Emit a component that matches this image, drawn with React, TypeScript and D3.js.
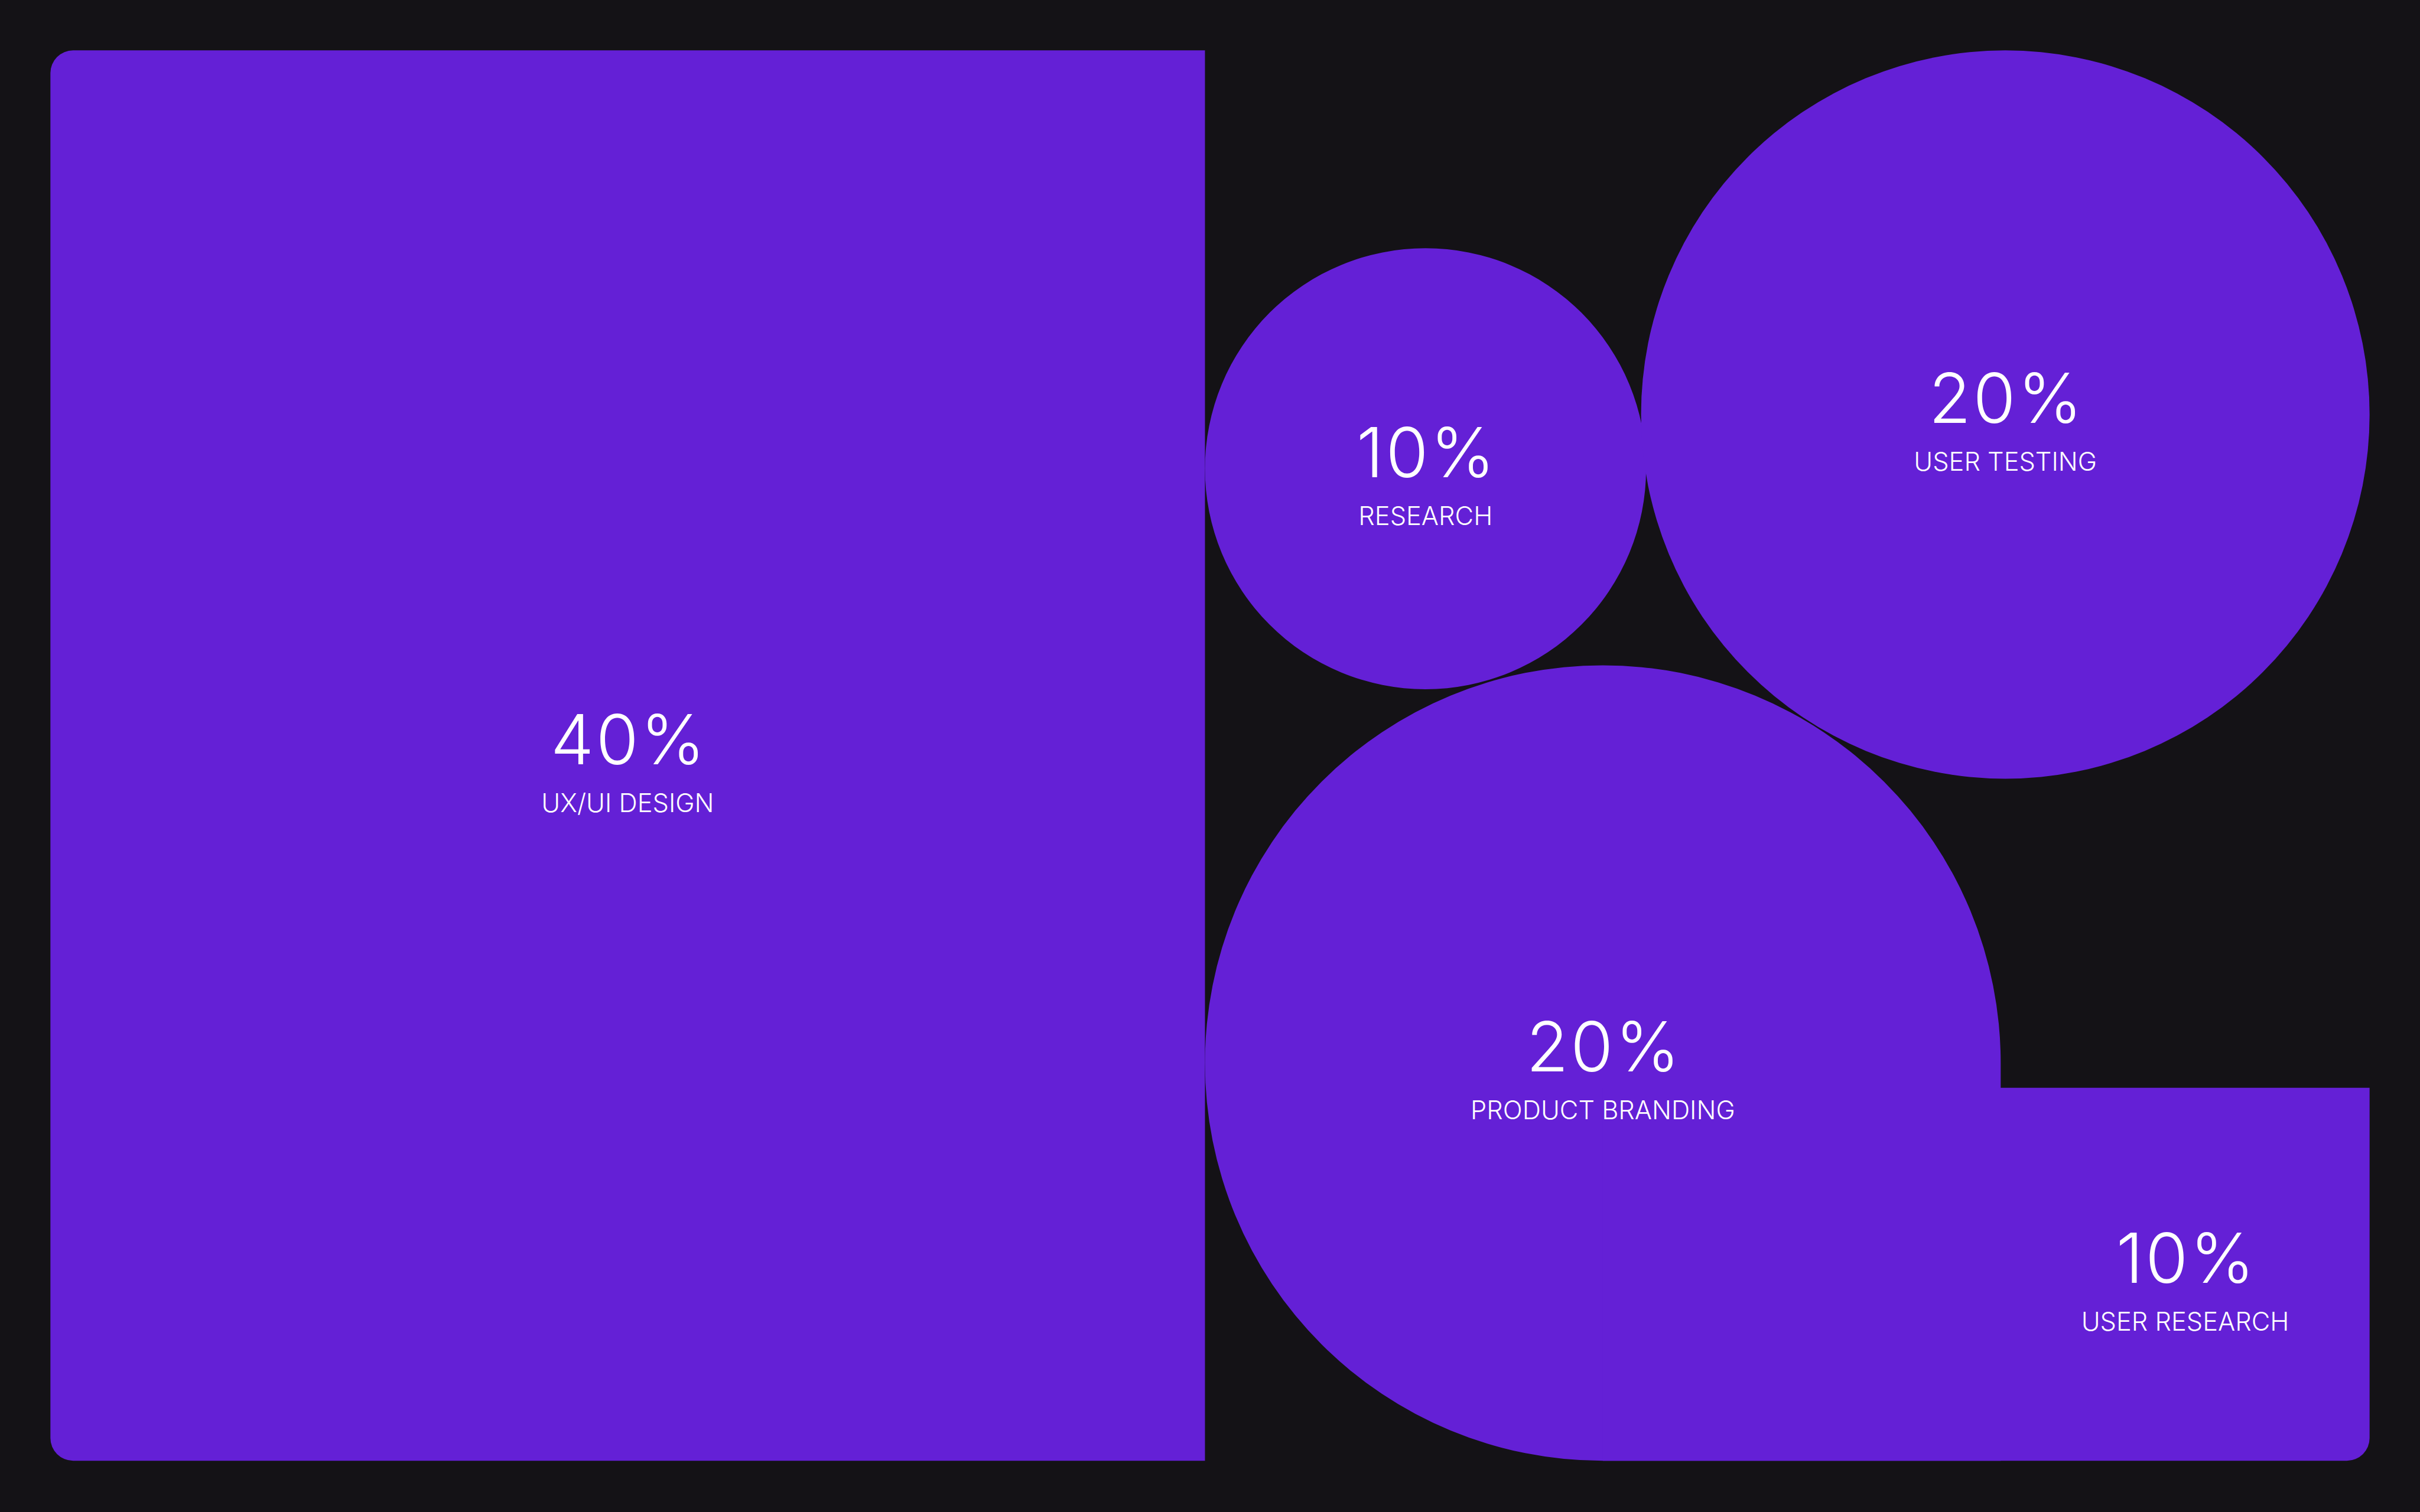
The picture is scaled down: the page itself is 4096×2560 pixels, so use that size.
import React, { useEffect } from "react";
import * as d3 from "d3";

// chart data
const labels = ["UX/UI DESIGN", "RESEARCH", "USER TESTING", "PRODUCT BRANDING", "USER RESEARCH"];
const shares = [40, 10, 20, 20, 10];
const kinds = ["panel", "circle", "circle", "drop", "tab"];

// reference canvas and output size
const REF_W = 5760;
const REF_H = 3600;
const W = 4096;
const H = 2560;

const BG = "#141216";
const FILL = "#6420d6";

// layout in reference pixels
const frame = { left: 120, top: 120, right: 5640, bottom: 3478 };
const splitX = 2868;
const corner = 54;
const rResearch = 525;
const yResearch = 1116;
const rTesting = 867;
const rBranding = 947;
const tabTop = 2590;

const x = d3.scaleLinear().domain([0, REF_W]).range([0, W]);
const y = d3.scaleLinear().domain([0, REF_H]).range([0, H]);
const k = W / REF_W;

function panelPath(x0, y0, x1, y1, r) {
  const p = d3.path();
  p.moveTo(x(x0 + r), y(y0));
  p.lineTo(x(x1), y(y0));
  p.lineTo(x(x1), y(y1));
  p.lineTo(x(x0 + r), y(y1));
  p.arcTo(x(x0), y(y1), x(x0), y(y1 - r), r * k);
  p.lineTo(x(x0), y(y0 + r));
  p.arcTo(x(x0), y(y0), x(x0 + r), y(y0), r * k);
  p.closePath();
  return p.toString();
}

function circlePath(cx, cy, r) {
  const p = d3.path();
  p.arc(x(cx), y(cy), r * k, 0, Math.PI * 2);
  p.closePath();
  return p.toString();
}

// circle whose bottom-right quarter is squared off
function dropPath(cx, cy, r) {
  const p = d3.path();
  p.moveTo(x(cx), y(cy + r));
  p.arc(x(cx), y(cy), r * k, Math.PI / 2, Math.PI * 2);
  p.lineTo(x(cx + r), y(cy + r));
  p.closePath();
  return p.toString();
}

function tabPath(x0, y0, x1, y1, r) {
  const p = d3.path();
  p.moveTo(x(x0), y(y0));
  p.lineTo(x(x1), y(y0));
  p.lineTo(x(x1), y(y1 - r));
  p.arcTo(x(x1), y(y1), x(x1 - r), y(y1), r * k);
  p.lineTo(x(x0), y(y1));
  p.closePath();
  return p.toString();
}

function buildShapes() {
  const testingCx = frame.right - rTesting;
  const testingCy = frame.top + rTesting;
  const brandCx = splitX + rBranding;
  const brandCy = frame.bottom - rBranding;
  return labels.map((label, i) => {
    let d = "";
    let cx = 0;
    let cy = 0;
    if (kinds[i] === "panel") {
      d = panelPath(frame.left, frame.top, splitX, frame.bottom, corner);
      cx = (frame.left + splitX) / 2;
      cy = (frame.top + frame.bottom) / 2;
    } else if (kinds[i] === "drop") {
      d = dropPath(brandCx, brandCy, rBranding);
      cx = brandCx;
      cy = brandCy;
    } else if (kinds[i] === "tab") {
      const x0 = brandCx + rBranding;
      // start the tab inside the squared quarter so no seam shows
      d = tabPath(brandCx, tabTop, frame.right, frame.bottom, corner);
      cx = (x0 + frame.right) / 2;
      cy = (tabTop + frame.bottom) / 2;
    } else if (shares[i] === 10) {
      cx = splitX + rResearch;
      cy = yResearch;
      d = circlePath(cx, cy, rResearch);
    } else {
      cx = testingCx;
      cy = testingCy;
      d = circlePath(cx, cy, rTesting);
    }
    return { label, share: shares[i], d, cx, cy };
  });
}

export default function App() {
  useEffect(() => {
    document.body.style.margin = "0";
    document.body.style.background = BG;
  }, []);

  const items = buildShapes();

  return (
    <svg
      width={W}
      height={H}
      viewBox={`0 0 ${W} ${H}`}
      style={{ position: "absolute", left: 0, top: 0, display: "block" }}
    >
      <rect x={0} y={0} width={W} height={H} fill={BG} />
      {items.map((it) => (
        <path key={it.label + "-shape"} d={it.d} fill={FILL} />
      ))}
      {items.map((it) => (
        <g key={it.label} fontFamily="Inter, 'Noto Sans', sans-serif" fill="#ffffff" textAnchor="middle">
          <text x={x(it.cx + 3)} y={y(it.cy + 20)} fontSize={164 * k} fontWeight={300} letterSpacing={5 * k}>
            {it.share}%
          </text>
          <text x={x(it.cx)} y={y(it.cy + 134)} fontSize={61 * k} fontWeight={300}>
            {it.label}
          </text>
        </g>
      ))}
    </svg>
  );
}
